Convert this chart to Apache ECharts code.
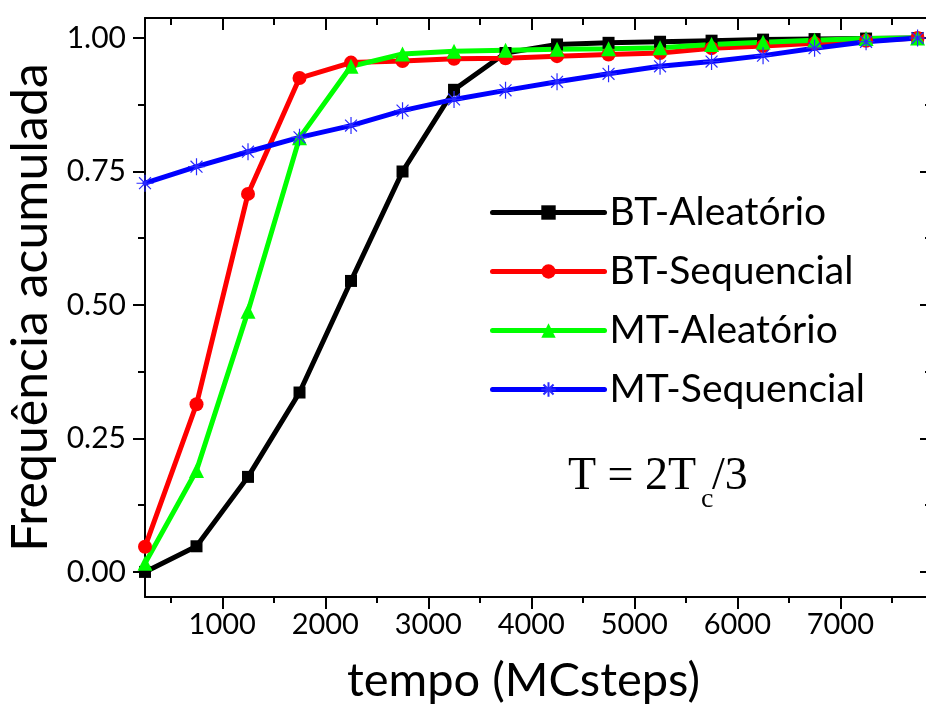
<!DOCTYPE html>
<html>
<head>
<meta charset="utf-8">
<script src="https://cdn.jsdelivr.net/npm/echarts@6/dist/echarts.min.js"></script>
<style>
  html, body { margin: 0; padding: 0; background: #fff; }
  #main { width: 926px; height: 707px; }
</style>
</head>
<body>
<div id="main"></div>
<script>
var tempo = [250, 750, 1250, 1750, 2250, 2750, 3250, 3750, 4250, 4750, 5250, 5750, 6250, 6750, 7250, 7750];
var btAleatorio = [0.0, 0.048, 0.178, 0.336, 0.545, 0.750, 0.903, 0.972, 0.988, 0.991, 0.993, 0.995, 0.997, 0.998, 0.999, 1.0];
var btSequencial = [0.047, 0.314, 0.708, 0.925, 0.954, 0.957, 0.961, 0.962, 0.966, 0.969, 0.972, 0.981, 0.985, 0.990, 0.995, 1.0];
var mtAleatorio = [0.016, 0.190, 0.488, 0.813, 0.947, 0.970, 0.975, 0.977, 0.979, 0.980, 0.982, 0.988, 0.992, 0.996, 0.999, 1.0];
var mtSequencial = [0.728, 0.759, 0.787, 0.814, 0.836, 0.864, 0.885, 0.902, 0.918, 0.933, 0.947, 0.956, 0.967, 0.981, 0.993, 1.0];

var xMajor = [1000, 2000, 3000, 4000, 5000, 6000, 7000];
var xMinor = [500, 1500, 2500, 3500, 4500, 5500, 6500, 7500];
var yMajor = [0, 0.25, 0.5, 0.75, 1.0];
var yMinor = [0.125, 0.375, 0.625, 0.875];

var X_MIN = 250, X_MAX = 7890, Y_MIN = -0.047, Y_MAX = 1.0375;
var font = 'Lato';

// asterisk symbol for MT-Sequencial
var asterisk = 'path://M0,5L10,5M5,0L5,10M1.5,1.5L8.5,8.5M8.5,1.5L1.5,8.5';

function pairs(ys) {
    return tempo.map(function (x, i) { return [x, ys[i]]; });
}

function xAx(pos, ticks, len, inside, line, labels) {
    return {
        type: 'value', position: pos, min: X_MIN, max: X_MAX,
        axisLine: { show: line, onZero: false, lineStyle: { color: '#000', width: 2 } },
        axisTick: { show: true, inside: inside, length: len, customValues: ticks, lineStyle: { color: '#000', width: 2 } },
        axisLabel: labels ? {
            show: true, customValues: xMajor, margin: 13, color: '#000', fontFamily: font, fontSize: 29,
            formatter: function (v) { return String(v); }
        } : { show: false },
        splitLine: { show: false }
    };
}

function yAx(pos, ticks, len, inside, line, labels) {
    return {
        type: 'value', position: pos, min: Y_MIN, max: Y_MAX,
        axisLine: { show: line, onZero: false, lineStyle: { color: '#000', width: 2 } },
        axisTick: { show: true, inside: inside, length: len, customValues: ticks, lineStyle: { color: '#000', width: 2 } },
        axisLabel: labels ? {
            show: true, customValues: yMajor, margin: 19, color: '#000', fontFamily: font, fontSize: 30,
            formatter: function (v) { return v.toFixed(2); }
        } : { show: false },
        splitLine: { show: false }
    };
}

var chart = echarts.init(document.getElementById('main'));

var xAxes = [
    xAx('bottom', xMajor, 12, false, true, true),
    xAx('bottom', xMinor, 6, false, false, false),
    xAx('top', xMajor, 12, true, true, false),
    xAx('top', xMinor, 7, true, false, false)
];
xAxes[0].name = 'tempo (MCsteps)';
xAxes[0].nameLocation = 'middle';
xAxes[0].nameGap = 60;
xAxes[0].nameTextStyle = { fontFamily: font, fontSize: 47, color: '#000', padding: [0, 30, 0, 0] };

var yAxes = [
    yAx('left', yMajor, 12, false, true, true),
    yAx('left', yMinor, 7, false, false, false),
    yAx('right', yMajor, 12, true, true, false),
    yAx('right', yMinor, 7, true, false, false)
];
yAxes[0].name = 'Frequência acumulada';
yAxes[0].nameLocation = 'middle';
yAxes[0].nameGap = 86;
yAxes[0].nameTextStyle = { fontFamily: font, fontSize: 50, color: '#000' };

function line(name, ys, color, symbol, size, extra) {
    var s = {
        name: name, type: 'line', data: pairs(ys),
        xAxisIndex: 0, yAxisIndex: 0,
        symbol: symbol, symbolSize: size,
        showAllSymbol: true,
        lineStyle: { color: color, width: 5, cap: 'round' },
        itemStyle: { color: color },
        emphasis: { disabled: true },
        animation: false
    };
    if (extra) s.itemStyle = extra;
    return s;
}

var option = {
    animation: false,
    grid: { left: 145, width: 787, top: 18, bottom: 110, containLabel: false, outerBoundsMode: 'none' },
    xAxis: xAxes,
    yAxis: yAxes,
    legend: {
        orient: 'vertical', left: 485, top: 188,
        itemWidth: 112, itemHeight: 18, itemGap: 20,
        lineStyle: { width: 5, cap: 'round' },
        textStyle: { fontFamily: font, fontSize: 39, color: '#000' },
        data: ['BT-Aleatório', 'BT-Sequencial', 'MT-Aleatório', 'MT-Sequencial']
    },
    graphic: [
        { type: 'text', left: 568, top: 454, style: { text: 'T = 2T', fontFamily: 'Liberation Serif', fontSize: 46, fill: '#000' } },
        { type: 'text', left: 701, top: 486, style: { text: 'c', fontFamily: 'Liberation Serif', fontSize: 28, fill: '#000' } },
        { type: 'text', left: 712, top: 454, style: { text: '/3', fontFamily: 'Liberation Serif', fontSize: 46, fill: '#000' } }
    ],
    series: [
        line('BT-Aleatório', btAleatorio, '#000000', 'rect', 12),
        line('BT-Sequencial', btSequencial, '#ff0000', 'circle', 14),
        line('MT-Aleatório', mtAleatorio, '#00ff00', 'triangle', 15),
        line('MT-Sequencial', mtSequencial, '#0000ff', asterisk, 17,
            { color: '#0000ff', borderColor: '#2a2aff', borderWidth: 1.2 })
    ]
};

chart.setOption(option);
</script>
</body>
</html>
